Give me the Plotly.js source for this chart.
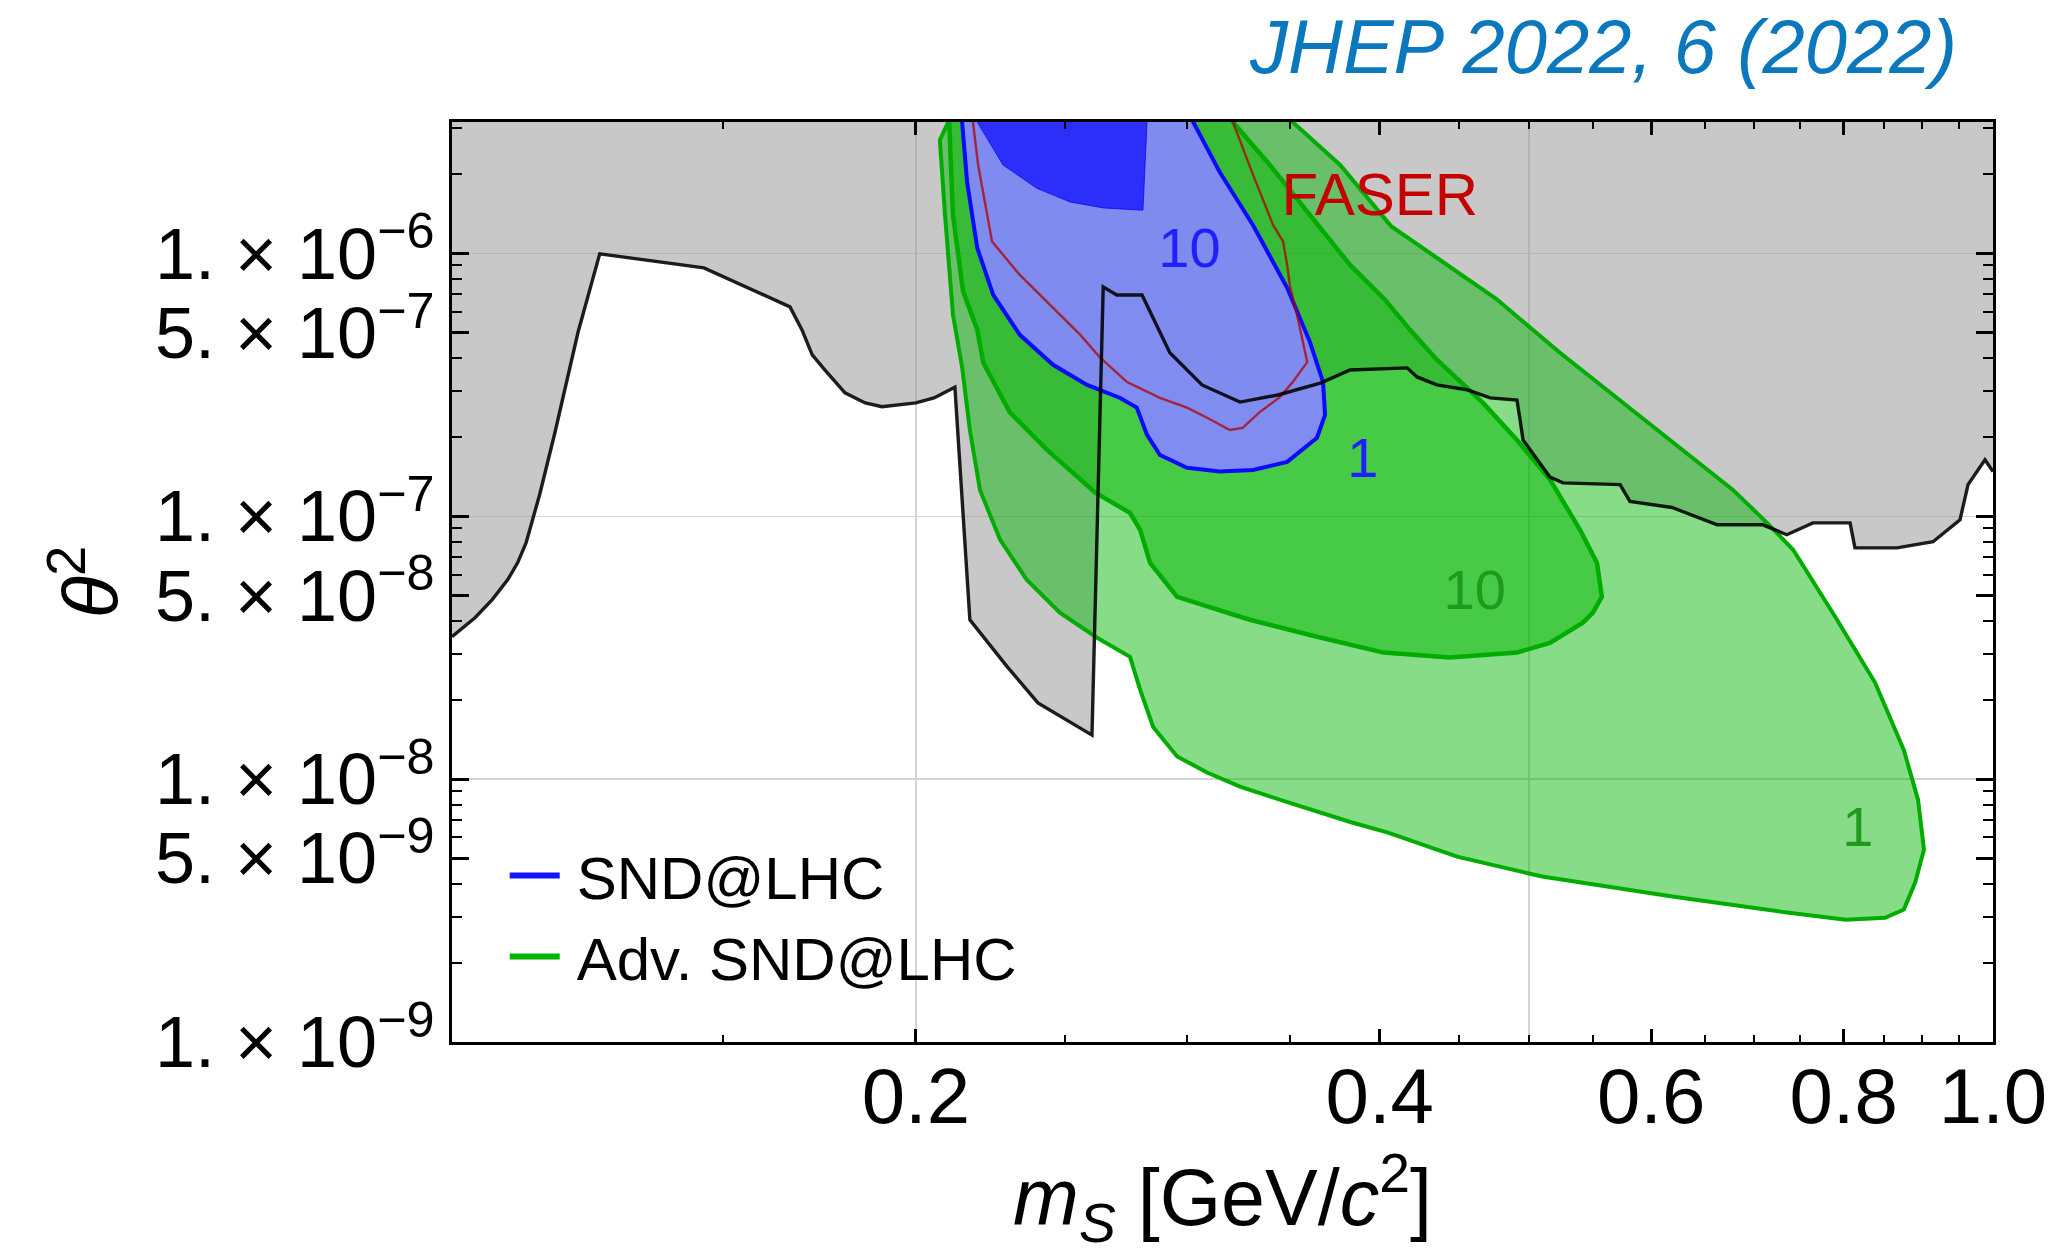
<!DOCTYPE html>
<html>
<head>
<meta charset="utf-8">
<script src="https://cdn.plot.ly/plotly-3.0.1.min.js"></script>
<style>html,body{margin:0;padding:0;background:#fff;}#chart{width:2069px;height:1254px;}</style>
</head>
<body>
<div id="chart"></div>
<script>
// ---------- data ----------
// Previously excluded region (grey), boundary from left to right, then closed above the plot
const excludedMass = [0.1, 0.1035, 0.1062, 0.1087, 0.1103, 0.1117, 0.114, 0.1166, 0.1207, 0.1247, 0.1457, 0.1657, 0.1687, 0.1713, 0.1746, 0.1799, 0.1854, 0.1901, 0.2, 0.2055, 0.212, 0.2168, 0.2292, 0.24, 0.2602, 0.2646, 0.27, 0.2804, 0.2923, 0.3067, 0.3246, 0.344, 0.3664, 0.3826, 0.4167, 0.4229, 0.4356, 0.4556, 0.4717, 0.491, 0.4933, 0.4955, 0.5158, 0.526, 0.5728, 0.5813, 0.619, 0.6623, 0.7091, 0.7349, 0.7641, 0.8077, 0.8136, 0.8664, 0.9143, 0.9519, 0.9634, 0.9881, 1.0, 1.0, 0.1];
const excludedTheta2 = [3.48e-8, 4.11e-8, 4.82e-8, 5.74e-8, 6.65e-8, 7.92e-8, 1.21e-7, 2.07e-7, 4.99e-7, 9.96e-7, 8.81e-7, 6.26e-7, 5.12e-7, 4.11e-7, 3.60e-7, 2.95e-7, 2.70e-7, 2.61e-7, 2.70e-7, 2.82e-7, 3.10e-7, 4.04e-8, 2.68e-8, 1.95e-8, 1.47e-8, 7.46e-7, 6.95e-7, 6.95e-7, 4.19e-7, 3.16e-7, 2.72e-7, 2.90e-7, 3.22e-7, 3.60e-7, 3.67e-7, 3.39e-7, 3.16e-7, 3.03e-7, 2.82e-7, 2.77e-7, 2.33e-7, 1.95e-7, 1.41e-7, 1.34e-7, 1.32e-7, 1.14e-7, 1.08e-7, 9.28e-8, 9.28e-8, 8.51e-8, 9.44e-8, 9.44e-8, 7.58e-8, 7.58e-8, 8.00e-8, 9.70e-8, 1.32e-7, 1.64e-7, 1.48e-7, 1e-5, 1e-5];

// Adv. SND@LHC, 1-event contour
const advSnd1Mass = [0.2099, 0.2099, 0.2073, 0.2089, 0.2114, 0.2143, 0.2168, 0.2201, 0.2268, 0.236, 0.248, 0.2622, 0.2754, 0.2796, 0.2851, 0.2955, 0.309, 0.3246, 0.3492, 0.3837, 0.4045, 0.449, 0.5098, 0.6209, 0.7372, 0.8027, 0.851, 0.8753, 0.8902, 0.902, 0.894, 0.8753, 0.8384, 0.7899, 0.7418, 0.7135, 0.678, 0.6172, 0.5787, 0.5582, 0.5236, 0.476, 0.4068, 0.377, 0.3512, 0.3512];
const advSnd1Theta2 = [1e-5, 3.16e-6, 2.70e-6, 1.40e-6, 5.83e-7, 3.70e-7, 2.13e-7, 1.26e-7, 8.15e-8, 5.74e-8, 4.30e-8, 3.45e-8, 2.92e-8, 2.19e-8, 1.58e-8, 1.22e-8, 1.06e-8, 9.36e-9, 8.14e-9, 6.84e-9, 6.27e-9, 5.07e-9, 4.26e-9, 3.57e-9, 3.10e-9, 2.92e-9, 2.97e-9, 3.19e-9, 4.04e-9, 5.40e-9, 8.36e-9, 1.29e-8, 2.33e-8, 4.15e-8, 7.46e-8, 9.44e-8, 1.26e-7, 1.95e-7, 2.61e-7, 3.10e-7, 4.19e-7, 6.72e-7, 1.27e-6, 2.17e-6, 3.16e-6, 1e-5];

// Adv. SND@LHC, 10-event contour
const advSnd10Mass = [0.2102, 0.2102, 0.2114, 0.2146, 0.2192, 0.2212, 0.2302, 0.2433, 0.2615, 0.2754, 0.2796, 0.2838, 0.2955, 0.3294, 0.3642, 0.4022, 0.4443, 0.491, 0.5158, 0.5418, 0.55, 0.5574, 0.5534, 0.5395, 0.5158, 0.491, 0.4667, 0.4356, 0.4185, 0.4033, 0.3826, 0.3604, 0.3394, 0.3212, 0.3212];
const advSnd10Theta2 = [1e-5, 3.16e-6, 1.40e-6, 7.19e-7, 5.12e-7, 3.84e-7, 2.48e-7, 1.79e-7, 1.23e-7, 1.03e-7, 8.89e-8, 6.65e-8, 4.94e-8, 4.04e-8, 3.48e-8, 3.03e-8, 2.90e-8, 3.03e-8, 3.30e-8, 3.94e-8, 4.30e-8, 4.94e-8, 6.65e-8, 8.89e-8, 1.38e-7, 1.95e-7, 2.70e-7, 3.94e-7, 5.12e-7, 6.65e-7, 9.04e-7, 1.40e-6, 2.17e-6, 3.16e-6, 1e-5];

// SND@LHC, 1-event contour
const snd1Mass = [0.2143, 0.2143, 0.2159, 0.2192, 0.2245, 0.2336, 0.2455, 0.2583, 0.2714, 0.2782, 0.2825, 0.288, 0.2999, 0.3149, 0.331, 0.3483, 0.3642, 0.3686, 0.3675, 0.3604, 0.3483, 0.331, 0.3149, 0.3027, 0.3027];
const snd1Theta2 = [1e-5, 3.16e-6, 1.87e-6, 1.05e-6, 6.95e-7, 4.90e-7, 3.77e-7, 3.16e-7, 2.82e-7, 2.59e-7, 2.04e-7, 1.71e-7, 1.53e-7, 1.48e-7, 1.50e-7, 1.61e-7, 1.99e-7, 2.43e-7, 3.24e-7, 4.60e-7, 7.40e-7, 1.28e-6, 2.04e-6, 3.16e-6, 1e-5];

// SND@LHC, 10-event contour
const snd10Mass = [0.2192, 0.2192, 0.2278, 0.2396, 0.2518, 0.2646, 0.2808, 0.2825, 0.2825];
const snd10Theta2 = [1e-5, 3.16e-6, 2.17e-6, 1.77e-6, 1.57e-6, 1.49e-6, 1.46e-6, 3.16e-6, 1e-5];

// FASER sensitivity contour
const faserMass = [0.2178, 0.2195, 0.2225, 0.2241, 0.2336, 0.2455, 0.2557, 0.2634, 0.2742, 0.288, 0.2999, 0.309, 0.3197, 0.3259, 0.3343, 0.3445, 0.3512, 0.3589, 0.3535, 0.3499, 0.3483, 0.3462, 0.3411, 0.331, 0.3246, 0.3212];
const faserTheta2 = [3.16e-6, 2.17e-6, 1.40e-6, 1.11e-6, 8.28e-7, 6.21e-7, 4.90e-7, 4.01e-7, 3.24e-7, 2.82e-7, 2.59e-7, 2.37e-7, 2.13e-7, 2.17e-7, 2.49e-7, 2.84e-7, 3.24e-7, 3.86e-7, 5.83e-7, 7.40e-7, 9.04e-7, 1.11e-6, 1.28e-6, 1.99e-6, 2.70e-6, 3.16e-6];

// Contour labels
const labelText = ['FASER', '10', '1', '10', '1'];
const labelMass = [0.400, 0.301, 0.390, 0.461, 0.817];
const labelTheta2 = [1.6e-6, 1.0e-6, 1.6e-7, 5.0e-8, 6.3e-9];

// Legend names
const seriesNames = ['SND@LHC', 'Adv. SND@LHC'];

// Axis ticks
const xTickVals = [0.2, 0.4, 0.6, 0.8, 1.0];
const xTickText = ['0.2', '0.4', '0.6', '0.8', '1.0'];
const xMinorVals = [0.15, 0.25, 0.3, 0.35, 0.45, 0.5, 0.55, 0.65, 0.7, 0.75, 0.85, 0.9, 0.95];
const xGridVals = [0.2, 0.5];
const yTickVals = [1e-9, 5e-9, 1e-8, 5e-8, 1e-7, 5e-7, 1e-6];
const yTickText = ['1. × 10<sup>−9</sup>', '5. × 10<sup>−9</sup>', '1. × 10<sup>−8</sup>', '5. × 10<sup>−8</sup>', '1. × 10<sup>−7</sup>', '5. × 10<sup>−7</sup>', '1. × 10<sup>−6</sup>'];
const yMinorVals = [2e-9, 3e-9, 4e-9, 6e-9, 7e-9, 8e-9, 9e-9, 2e-8, 3e-8, 4e-8, 6e-8, 7e-8, 8e-8, 9e-8, 2e-7, 3e-7, 4e-7, 6e-7, 7e-7, 8e-7, 9e-7, 2e-6, 3e-6];
const yGridVals = [1e-8, 1e-7, 1e-6];

// ---------- styling ----------
const FONT = 'Liberation Sans, Arial, Helvetica, sans-serif';
const GREEN_FILL = 'rgba(0,182,0,0.47)';
const GREEN_LINE = 'rgb(0,172,0)';
const labelColors = ['#c40000', '#2020ff', '#2020ff', '#1f9a1f', '#1f9a1f'];

const nCurve = excludedMass.length - 2;

const traces = [
  { x: excludedMass, y: excludedTheta2, type: 'scatter', mode: 'lines', fill: 'toself',
    fillcolor: 'rgba(150,150,150,0.52)', line: { width: 0 }, showlegend: false, hoverinfo: 'skip' },
  { x: advSnd1Mass, y: advSnd1Theta2, type: 'scatter', mode: 'lines', fill: 'toself',
    fillcolor: GREEN_FILL, line: { color: GREEN_LINE, width: 4 }, showlegend: false, hoverinfo: 'skip' },
  { x: advSnd10Mass, y: advSnd10Theta2, type: 'scatter', mode: 'lines', fill: 'toself',
    fillcolor: GREEN_FILL, line: { color: GREEN_LINE, width: 4.5 }, showlegend: false, hoverinfo: 'skip' },
  { x: snd1Mass, y: snd1Theta2, type: 'scatter', mode: 'lines', fill: 'toself',
    fillcolor: 'rgba(135,135,255,0.92)', line: { color: 'rgb(10,10,255)', width: 4 }, showlegend: false, hoverinfo: 'skip' },
  { x: snd10Mass, y: snd10Theta2, type: 'scatter', mode: 'lines', fill: 'toself',
    fillcolor: 'rgba(0,0,255,0.66)', line: { color: 'rgba(0,0,255,0.7)', width: 1 }, showlegend: false, hoverinfo: 'skip' },
  { x: faserMass, y: faserTheta2, type: 'scatter', mode: 'lines',
    line: { color: 'rgba(175,0,0,0.75)', width: 2.4 }, showlegend: false, hoverinfo: 'skip' },
  { x: excludedMass.slice(0, nCurve), y: excludedTheta2.slice(0, nCurve), type: 'scatter', mode: 'lines',
    line: { color: 'rgba(0,0,0,0.88)', width: 3.4 }, showlegend: false, hoverinfo: 'skip' },
  { x: labelMass, y: labelTheta2, text: labelText, type: 'scatter', mode: 'text',
    textposition: 'middle center', cliponaxis: false,
    textfont: { family: FONT, size: [60, 56, 56, 56, 56], color: labelColors },
    showlegend: false, hoverinfo: 'skip' },
  // legend entries
  { x: [null], y: [null], type: 'scatter', mode: 'lines', name: '\u2009' + seriesNames[0],
    line: { color: 'rgb(20,20,255)', width: 6 }, legendgroup: 'a', hoverinfo: 'skip' },
  { x: [null], y: [null], type: 'scatter', mode: 'lines', name: '\u2009' + seriesNames[1],
    line: { color: 'rgb(0,180,0)', width: 6 }, legendgroup: 'b', hoverinfo: 'skip' },
  // invisible trace carrying the grid axes
  { x: [null], y: [null], type: 'scatter', mode: 'lines', xaxis: 'x2', yaxis: 'y2',
    showlegend: false, hoverinfo: 'skip' }
];

const layout = {
  width: 2069, height: 1254,
  margin: { l: 452, r: 76, t: 122, b: 212, pad: 0 },
  paper_bgcolor: '#ffffff', plot_bgcolor: '#ffffff',
  font: { family: FONT, color: '#000' },
  showlegend: true,
  hovermode: false,
  title: {
    text: '<i>JHEP 2022, 6 (2022)</i>',
    font: { family: FONT, size: 76, color: '#0b77bc' },
    xref: 'paper', x: 0.9766, xanchor: 'right',
    yref: 'container', y: 0.9633, yanchor: 'middle'
  },
  legend: {
    x: 0.0342, y: 0.2305, xanchor: 'left', yanchor: 'top',
    font: { family: FONT, size: 60, color: '#000' },
    bgcolor: 'rgba(0,0,0,0)', borderwidth: 0,
    itemwidth: 50, tracegroupgap: 7, traceorder: 'normal'
  },
  xaxis: {
    type: 'log', range: [-1, 0], autorange: false,
    tickmode: 'array', tickvals: xTickVals, ticktext: xTickText,
    ticks: 'inside', ticklen: 13, tickwidth: 3, tickcolor: '#000',
    showline: true, linewidth: 3, linecolor: '#000', mirror: 'allticks',
    showgrid: false, zeroline: false, ticklabelstandoff: -16,
    tickfont: { family: FONT, size: 78, color: '#000' },
    minor: { tickmode: 'array', tickvals: xMinorVals, ticks: 'inside', ticklen: 7, tickwidth: 2, tickcolor: '#000', showgrid: false },
    title: { text: '<i>m</i><sub><i>S</i></sub> [GeV/<i>c</i><sup>2</sup>]', font: { family: FONT, size: 79, color: '#000' }, standoff: 38 },
    automargin: false
  },
  yaxis: {
    type: 'log', range: [-9, -5.5], autorange: false,
    tickmode: 'array', tickvals: yTickVals, ticktext: yTickText,
    ticks: 'inside', ticklen: 17, tickwidth: 3, tickcolor: '#000',
    showline: true, linewidth: 3, linecolor: '#000', mirror: 'allticks',
    showgrid: false, zeroline: false,
    tickfont: { family: FONT, size: 72, color: '#000' },
    minor: { tickmode: 'array', tickvals: yMinorVals, ticks: 'inside', ticklen: 10, tickwidth: 2, tickcolor: '#000', showgrid: false },
    title: { text: '<i>θ</i><sup>2</sup>', font: { family: FONT, size: 78, color: '#000' }, standoff: 11 },
    automargin: false
  },
  xaxis2: {
    type: 'log', range: [-1, 0], autorange: false, overlaying: 'x', anchor: 'y2',
    tickmode: 'array', tickvals: xGridVals, showticklabels: false, ticks: '',
    showgrid: true, gridcolor: '#d4d4d4', gridwidth: 1.5, showline: false, zeroline: false
  },
  yaxis2: {
    type: 'log', range: [-9, -5.5], autorange: false, overlaying: 'y', anchor: 'x2',
    tickmode: 'array', tickvals: yGridVals, showticklabels: false, ticks: '',
    showgrid: true, gridcolor: '#d4d4d4', gridwidth: 1.5, showline: false, zeroline: false
  }
};

Plotly.newPlot('chart', traces, layout, { displayModeBar: false, staticPlot: true });
</script>
</body>
</html>
